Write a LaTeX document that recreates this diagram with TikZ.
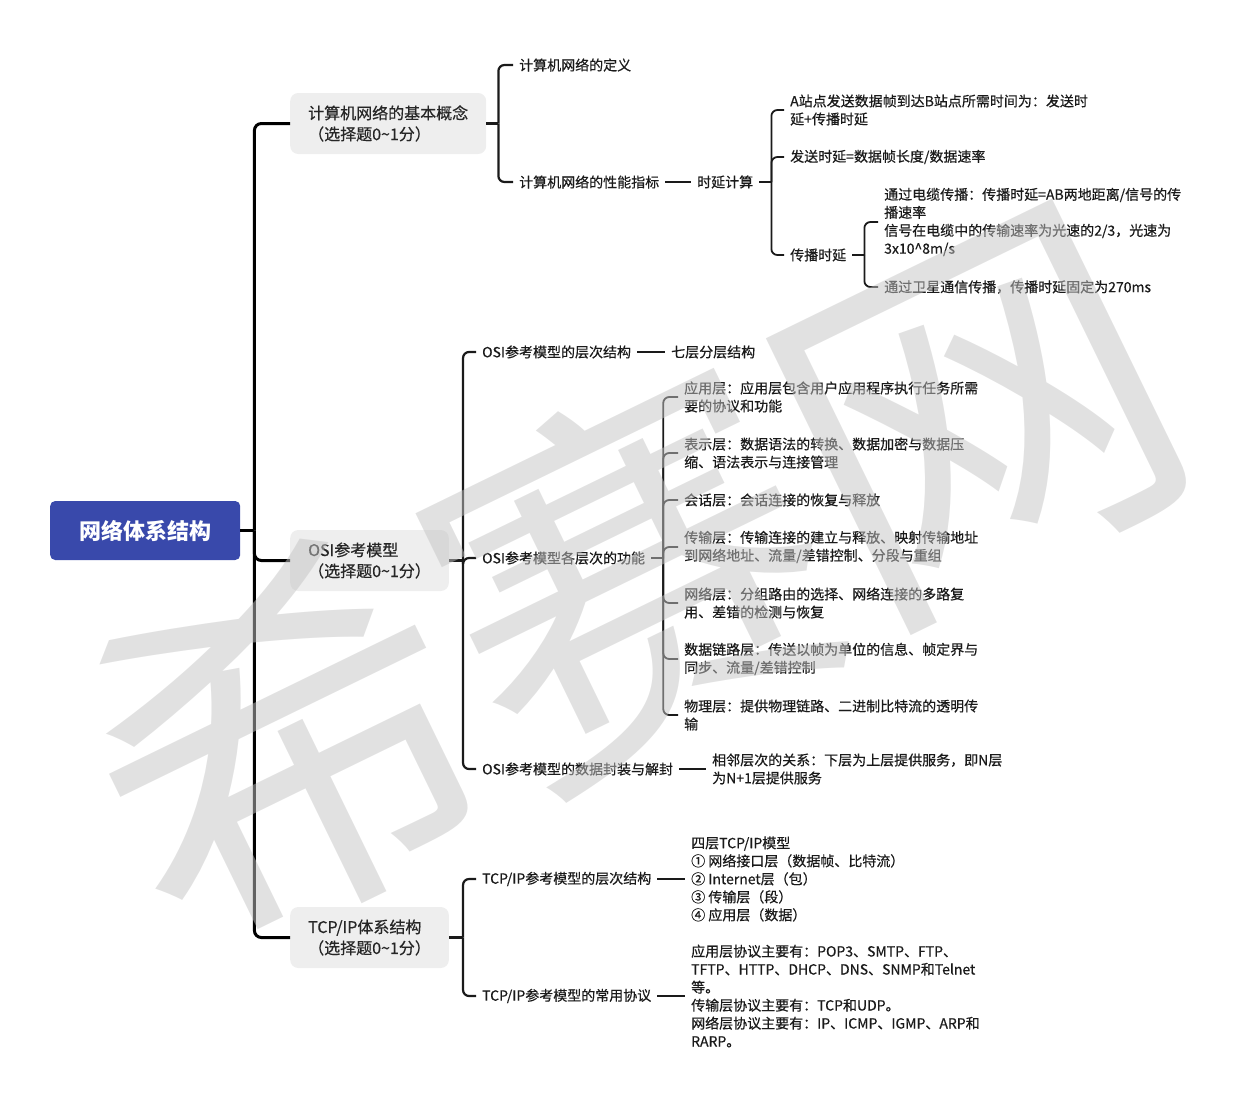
\documentclass[tikz,border=0pt]{standalone}
\usepackage{fontspec}
\setmainfont{Noto Sans CJK SC}
\newfontfamily\inkfont{Noto Sans CJK SC}[FakeBold=0.5]
\definecolor{rootblue}{HTML}{3949AB}
\definecolor{boxgray}{HTML}{EEEEEE}
\definecolor{ink}{HTML}{1A1A1A}
\definecolor{wmgray}{HTML}{C4C4C4}

\begin{document}
\begin{tikzpicture}[x=1pt, y=-1pt,
  root/.style={fill=rootblue, text=white, rounded corners=5pt, font=\fontsize{22}{26}\selectfont\bfseries,
    minimum width=190pt, minimum height=59pt, anchor=west},
  topic/.style={fill=boxgray, rounded corners=8pt, align=left, font=\inkfont\fontsize{16}{21}\selectfont,
    text=black!85, inner xsep=18pt, minimum height=61pt, anchor=west},
  leaf/.style={align=left, font=\inkfont\fontsize{14}{18}\selectfont, text=ink, inner xsep=6pt, inner ysep=2pt, anchor=west},
  trunk/.style={draw=black, line width=3pt, rounded corners=7pt},
  branch/.style={draw=ink, line width=2.2pt, rounded corners=6pt},
  twig/.style={draw=ink, line width=1.8pt, rounded corners=6pt},
  watermark/.style={rotate=26, text=wmgray, text opacity=0.5, inner sep=0pt,
    font=\fontsize{385}{385}\selectfont}]
  \useasboundingbox (0,0) rectangle (1238,1106);

  \node[root] (net) at (50,530.5) {网络体系结构};

  \node[topic] (basic) at (290,123.5) {计算机网络的基本概念\\（选择题0\textasciitilde1分）};
  \node[topic] (osi) at (290,560.5) {OSI参考模型\\（选择题0\textasciitilde1分）};
  \node[topic] (tcp) at (290,937.5) {TCP/IP体系结构\\（选择题0\textasciitilde1分）};

  \coordinate (j0) at ([xshift=14pt]net.east);
  \draw[trunk] (net.east) -- (j0);
  \draw[trunk] (j0) |- (basic.west);
  \draw[trunk] (j0) |- (osi.west);
  \draw[trunk] (j0) |- (tcp.west);

  % basic concepts
  \node[leaf] (def) at (513,65) {计算机网络的定义};
  \node[leaf] (perf) at (513,182) {计算机网络的性能指标};
  \coordinate (j1) at ([xshift=12pt]basic.east);
  \draw[branch] (basic.east) -- (j1);
  \draw[branch] (j1) |- (def.west);
  \draw[branch] (j1) |- (perf.west);

  \node[leaf] (delay) at (691,182) {时延计算};
  \draw[twig] (perf.east) -- (delay.west);

  \node[leaf] (total) at (784,110) {A站点发送数据帧到达B站点所需时间为：发送时\\延+传播时延};
  \node[leaf] (send) at (784,157) {发送时延=数据帧长度/数据速率};
  \node[leaf] (prop) at (784,255) {传播时延};
  \coordinate (j2) at ([xshift=12pt]delay.east);
  \draw[twig] (delay.east) -- (j2);
  \draw[twig] (j2) |- (total.west);
  \draw[twig] (j2) |- (send.west);
  \draw[twig] (j2) |- (prop.west);

  \node[leaf] (cable) at (878,222) {通过电缆传播：传播时延=AB两地距离/信号的传\\播速率\\信号在电缆中的传输速率为光速的2/3，光速为\\3x10\textasciicircum8m/s};
  \node[leaf] (sat) at (878,287) {通过卫星通信传播，传播时延固定为270ms};
  \coordinate (j3) at ([xshift=12pt]prop.east);
  \draw[twig] (prop.east) -- (j3);
  \draw[twig] (j3) |- (cable.west);
  \draw[twig] (j3) |- (sat.west);

  % OSI
  \node[leaf] (layers) at (476,352) {OSI参考模型的层次结构};
  \node[leaf] (func) at (476,558) {OSI参考模型各层次的功能};
  \node[leaf] (encap) at (476,769) {OSI参考模型的数据封装与解封};
  \coordinate (j4) at ([xshift=14pt]osi.east);
  \draw[branch] (osi.east) -- (j4);
  \draw[branch] (j4) |- (layers.west);
  \draw[branch] (j4) |- (func.west);
  \draw[branch] (j4) |- (encap.west);

  \node[leaf] (seven) at (665,352) {七层分层结构};
  \draw[twig] (layers.east) -- (seven.west);

  \node[leaf] (app) at (678,397) {应用层：应用层包含用户应用程序执行任务所需\\要的协议和功能};
  \node[leaf] (pres) at (678,453) {表示层：数据语法的转换、数据加密与数据压\\缩、语法表示与连接管理};
  \node[leaf] (sess) at (678,500) {会话层：会话连接的恢复与释放};
  \node[leaf] (trans) at (678,547) {传输层：传输连接的建立与释放、映射传输地址\\到网络地址、流量/差错控制、分段与重组};
  \node[leaf] (netw) at (678,603) {网络层：分组路由的选择、网络连接的多路复\\用、差错的检测与恢复};
  \node[leaf] (dlink) at (678,659) {数据链路层：传送以帧为单位的信息、帧定界与\\同步、流量/差错控制};
  \node[leaf] (phys) at (678,715) {物理层：提供物理链路、二进制比特流的透明传\\输};
  \coordinate (j5) at ([xshift=12pt]func.east);
  \draw[twig] (func.east) -- (j5);
  \draw[twig] (j5) |- (app.west);
  \draw[twig] (j5) |- (pres.west);
  \draw[twig] (j5) |- (sess.west);
  \draw[twig] (j5) |- (trans.west);
  \draw[twig] (j5) |- (netw.west);
  \draw[twig] (j5) |- (dlink.west);
  \draw[twig] (j5) |- (phys.west);

  \node[leaf] (adj) at (706,769) {相邻层次的关系：下层为上层提供服务，即N层\\为N+1层提供服务};
  \draw[twig] (encap.east) -- (adj.west);

  % TCP/IP
  \node[leaf] (tlayers) at (476,879) {TCP/IP参考模型的层次结构};
  \node[leaf] (proto) at (476,996) {TCP/IP参考模型的常用协议};
  \coordinate (j6) at ([xshift=14pt]tcp.east);
  \draw[branch] (tcp.east) -- (j6);
  \draw[branch] (j6) |- (tlayers.west);
  \draw[branch] (j6) |- (proto.west);

  \node[leaf] (four) at (685,879) {四层TCP/IP模型\\① 网络接口层（数据帧、比特流）\\② Internet层（包）\\③ 传输层（段）\\④ 应用层（数据）};
  \draw[twig] (tlayers.east) -- (four.west);

  \node[leaf] (plist) at (685,996) {应用层协议主要有：POP3、SMTP、FTP、\\TFTP、HTTP、DHCP、DNS、SNMP和Telnet\\等。\\传输层协议主要有：TCP和UDP。\\网络层协议主要有：IP、ICMP、IGMP、ARP和\\RARP。};
  \draw[twig] (proto.east) -- (plist.west);

  \node[watermark] (wm) at (630,575) {希赛网};
\end{tikzpicture}
\end{document}
